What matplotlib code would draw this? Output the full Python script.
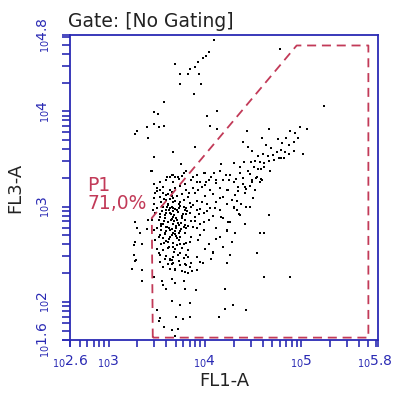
import matplotlib
matplotlib.use("Agg")
import matplotlib.pyplot as plt
import matplotlib.transforms as mtransforms
import numpy as np
from matplotlib.ticker import LogLocator, NullFormatter, FixedLocator

# event positions, as log10(FL1-A) / log10(FL3-A)
fl1_log = [
    # upper sparse events
    4.10, 4.04, 4.01, 3.98, 3.93, 3.69, 3.90, 3.85, 3.74, 3.83, 3.94, 3.74, 3.96, 3.89,
    4.78, 3.58, 3.47, 3.51, 4.02, 4.13, 3.47, 3.40, 3.52, 3.58, 4.05, 3.30, 3.28, 3.41,
    4.13, 5.24, 3.47, 3.67, 3.90, 3.75, 3.44,
    # bright diagonal cloud
    4.44, 4.67, 4.40, 4.60, 4.45, 4.49, 4.64, 4.69, 4.76, 4.84, 4.89, 4.94, 4.99, 5.06,
    4.97, 4.93, 4.88, 4.80, 4.79, 4.83, 4.75, 4.71, 4.66, 4.61, 4.55, 4.52, 4.48, 4.57,
    4.62, 4.67, 4.72, 4.77, 4.79, 4.82, 4.88, 4.93, 5.02, 4.41, 4.30, 4.37, 4.51, 4.55,
    4.58, 4.68, 4.62, 4.17, 4.16, 4.10, 4.22, 3.99, 3.88, 4.40, 4.47, 4.53, 4.58, 4.49,
    4.25, 4.32, 4.12, 4.01, 3.92, 3.64,
    # main population
    3.45, 3.66, 3.69, 3.76, 3.81, 3.92, 4.00, 4.07, 4.16, 4.26, 4.37, 4.45, 4.54,
    3.60, 3.67, 3.73, 3.79, 3.86, 3.95, 4.04, 4.12, 4.19, 4.30, 4.40, 4.49,
    3.50, 3.57, 3.64, 3.69, 3.74, 3.81, 3.88, 3.97, 4.05, 4.16, 4.24, 4.35, 4.43, 4.52,
    3.48, 3.54, 3.60, 3.66, 3.71, 3.76, 3.83, 3.90, 4.00, 4.09, 4.19, 4.31, 4.42, 4.50,
    3.55, 3.62, 3.64, 3.67, 3.73, 3.78, 3.85, 3.92, 4.02, 4.12, 4.23, 4.33,
    3.50, 3.57, 3.60, 3.66, 3.69, 3.73, 3.79, 3.86, 3.95, 4.05, 4.16, 4.30, 4.47,
    3.48, 3.54, 3.59, 3.64, 3.67, 3.72, 3.76, 3.81, 3.90, 3.99, 4.09, 4.19, 4.37,
    3.28, 3.52, 3.57, 3.62, 3.67, 3.71, 3.75, 3.79, 3.86, 3.95, 4.04, 4.26, 4.42,
    3.50, 3.55, 3.60, 3.66, 3.70, 3.74, 3.81, 3.88, 3.99, 4.12, 4.23,
    3.33, 3.54, 3.59, 3.64, 3.69, 3.74, 3.79, 3.86, 3.95, 4.16, 4.31,
    3.28, 3.48, 3.55, 3.60, 3.67, 3.73, 3.78, 3.85, 3.93, 4.04,
    3.50, 3.57, 3.63, 3.69, 3.76, 3.83, 4.00, 4.19,
    3.26, 3.52, 3.60, 3.67, 3.74, 3.81, 3.92, 4.09,
    3.29, 3.54, 3.64, 3.66, 3.73, 3.79, 3.95,
    3.24, 3.57, 3.69, 3.85,
    3.62, 3.64, 3.67, 3.68, 3.70, 3.65, 3.73, 3.63, 3.69, 3.66, 3.71, 3.62, 3.76, 3.78,
    3.59, 3.56, 3.60, 3.67, 3.74, 3.81, 3.85, 3.60, 3.73, 3.78, 3.55, 3.52, 3.67, 3.74,
    3.57, 3.79, 3.92, 3.92, 3.99, 4.02, 4.11, 4.16, 4.23, 4.28, 3.93, 4.00, 3.54, 3.47,
    3.45, 3.47, 3.47,
    # dense core
    3.58, 3.61, 3.63, 3.65, 3.66, 3.68, 3.70, 3.72, 3.61, 3.58, 3.64, 3.67, 3.70, 3.63,
    3.59, 3.75, 3.77, 3.71, 3.74, 3.69, 3.66, 3.62, 3.56, 3.53, 3.55, 3.58, 3.62, 3.71,
    3.68, 3.64, 3.80, 3.83, 3.82, 3.88, 3.90, 3.94, 3.97, 3.84, 3.60, 3.67,
    # right side of main population
    4.38, 4.47, 4.42, 4.35, 4.54, 4.59, 4.57, 4.67, 4.36, 4.54, 4.57, 4.62, 4.24, 4.30,
    4.17, 4.23, 4.33, 4.43, 4.28, 4.12, 4.09,
    # left of the gate
    3.30, 3.26, 3.35, 3.40, 3.46, 3.50, 3.53, 3.57, 3.47, 3.41, 3.61, 3.67, 3.72, 3.78,
    # lower tail
    3.28, 3.24, 3.35, 3.35, 3.47, 3.54, 3.59, 3.62, 3.66, 3.67, 3.69, 3.64, 3.72, 3.74,
    3.78, 3.83, 3.81, 3.86, 3.76, 3.79, 3.83, 3.87, 3.92, 3.98, 4.07, 4.23, 4.26, 3.56,
    3.57, 3.60, 3.66, 3.69, 3.78, 3.79, 3.91, 4.21, 3.66, 3.74, 3.85, 4.21, 4.29, 4.43,
    4.15, 3.50, 3.53, 3.52, 3.58, 3.66, 3.70, 3.77, 3.85, 3.72, 3.69, 4.62, 4.89,
]
fl3_log = [
    4.75, 4.62, 4.58, 4.56, 4.52, 4.50, 4.46, 4.44, 4.39, 4.39, 4.39, 4.29, 4.29, 4.18,
    4.65, 4.10, 3.99, 3.97, 3.95, 4.00, 3.87, 3.83, 3.83, 3.85, 3.85, 3.79, 3.76, 3.72,
    3.81, 4.05, 3.52, 3.57, 3.62, 3.45, 3.37,
    3.79, 3.81, 3.68, 3.72, 3.63, 3.58, 3.65, 3.61, 3.71, 3.72, 3.79, 3.77, 3.83, 3.81,
    3.72, 3.68, 3.65, 3.67, 3.59, 3.57, 3.57, 3.54, 3.53, 3.55, 3.53, 3.48, 3.47, 3.47,
    3.46, 3.48, 3.49, 3.51, 3.51, 3.51, 3.55, 3.58, 3.55, 3.47, 3.46, 3.42, 3.42, 3.39,
    3.39, 3.37, 3.42, 3.45, 3.37, 3.35, 3.33, 3.35, 3.31, 3.30, 3.34, 3.30, 3.29, 3.26,
    3.28, 3.29, 3.28, 3.26, 3.26, 3.31,
    3.37, 3.33, 3.31, 3.32, 3.37, 3.33, 3.35, 3.31, 3.37, 3.33, 3.35, 3.37, 3.31,
    3.28, 3.26, 3.29, 3.24, 3.28, 3.26, 3.28, 3.25, 3.28, 3.26, 3.24, 3.28,
    3.19, 3.21, 3.17, 3.19, 3.22, 3.17, 3.19, 3.21, 3.17, 3.19, 3.17, 3.21, 3.18, 3.17,
    3.14, 3.10, 3.12, 3.15, 3.11, 3.13, 3.10, 3.14, 3.11, 3.13, 3.10, 3.12, 3.14, 3.09,
    3.05, 3.03, 3.08, 3.05, 3.03, 3.07, 3.04, 3.06, 3.03, 3.05, 3.03, 3.06,
    2.98, 3.00, 2.96, 3.00, 2.97, 2.99, 2.96, 3.00, 2.97, 2.99, 2.96, 2.98, 3.00,
    2.93, 2.89, 2.91, 2.93, 2.89, 2.94, 2.90, 2.92, 2.89, 2.93, 2.90, 2.88, 2.91,
    2.84, 2.86, 2.82, 2.84, 2.82, 2.86, 2.83, 2.81, 2.85, 2.82, 2.86, 2.84, 2.82,
    2.77, 2.75, 2.79, 2.76, 2.78, 2.74, 2.77, 2.79, 2.75, 2.78, 2.74,
    2.72, 2.70, 2.72, 2.68, 2.71, 2.68, 2.72, 2.68, 2.70, 2.68, 2.72,
    2.63, 2.65, 2.61, 2.64, 2.62, 2.65, 2.61, 2.63, 2.65, 2.61,
    2.56, 2.54, 2.58, 2.55, 2.57, 2.54, 2.56, 2.58,
    2.49, 2.51, 2.48, 2.47, 2.51, 2.49, 2.47, 2.51,
    2.44, 2.42, 2.44, 2.40, 2.43, 2.40, 2.42,
    2.35, 2.37, 2.35, 2.37,
    3.02, 2.98, 2.95, 2.91, 2.88, 2.86, 2.81, 2.77, 2.74, 2.70, 2.67, 2.63, 2.88, 3.00,
    2.88, 2.95, 3.07, 3.09, 3.05, 2.98, 2.93, 2.74, 2.72, 2.79, 2.82, 2.68, 2.58, 2.61,
    2.67, 2.86, 2.77, 2.96, 2.84, 2.95, 2.98, 3.09, 3.17, 3.07, 3.17, 3.23, 3.17, 3.03,
    2.86, 2.75, 3.24,
    3.08, 3.00, 2.96, 2.92, 2.87, 2.85, 2.80, 2.83, 2.79, 2.85, 2.75, 2.72, 2.69, 2.66,
    2.71, 2.76, 2.92, 2.96, 3.01, 3.06, 3.11, 3.13, 3.01, 2.92, 2.80, 2.62, 2.57, 2.60,
    2.52, 2.45, 2.62, 2.80, 2.95, 3.02, 2.85, 2.92, 3.05, 3.14, 2.93, 2.99,
    3.03, 3.22, 3.21, 3.16, 3.31, 3.28, 3.26, 2.91, 2.92, 2.51, 2.72, 2.72, 2.84, 3.00,
    2.89, 2.75, 2.96, 3.00, 2.63, 2.66, 2.52,
    2.77, 2.60, 2.61, 2.76, 2.96, 3.16, 3.26, 3.14, 3.09, 2.86, 3.31, 3.33, 3.31, 3.35,
    2.43, 2.35, 2.33, 2.22, 2.26, 2.49, 2.45, 2.40, 2.44, 2.41, 2.33, 2.35, 2.49, 2.39,
    2.46, 2.47, 2.39, 2.41, 2.32, 2.31, 2.30, 2.32, 2.33, 2.41, 2.45, 2.41, 2.49, 2.22,
    2.18, 2.14, 2.24, 2.20, 2.22, 2.14, 2.12, 2.14, 2.01, 1.97, 1.99, 1.93, 1.97, 1.91,
    1.84, 1.91, 1.83, 1.80, 1.74, 1.70, 1.84, 1.82, 1.84, 1.72, 1.64, 2.26, 2.26,
]

# P1 gate outline (log10 units)
gate_fl1 = [3.46, 3.45, 4.955, 5.70, 5.70, 3.46]
gate_fl3 = [1.625, 2.88, 4.69, 4.69, 1.625, 1.625]

x_major = [2.6, 3, 4, 5, 5.8]
y_major = [1.6, 2, 3, 4, 4.8]

blue = "#2a2ab4"
red = "#c23a58"

fig = plt.figure(figsize=(3.94, 3.97), dpi=100)
ax = fig.add_axes([70 / 394, 1 - 340 / 397, 308 / 394, 305 / 397])

ax.scatter(10 ** np.array(fl1_log), 10 ** np.array(fl3_log), s=2.4, marker="s",
           c="black", linewidths=0, zorder=2)
ax.plot(10 ** np.array(gate_fl1), 10 ** np.array(gate_fl3), color=red, lw=1.3,
        linestyle=(0, (5, 3.2)), zorder=3)

ax.set_xscale("log")
ax.set_yscale("log")
ax.set_xlim(10 ** 2.6, 10 ** 5.8)
ax.set_ylim(10 ** 1.6, 10 ** 4.8)

ax.xaxis.set_major_locator(FixedLocator([10 ** v for v in x_major]))
ax.yaxis.set_major_locator(FixedLocator([10 ** v for v in y_major]))
ax.set_xticklabels([r"$_{10}$" + ("%g" % v) for v in x_major])
ax.set_yticklabels([r"$_{10}$" + ("%g" % v) for v in y_major], rotation=90, va="center")
for a in (ax.xaxis, ax.yaxis):
    a.set_minor_locator(LogLocator(base=10, subs=np.arange(2, 10)))
    a.set_minor_formatter(NullFormatter())

ax.tick_params(which="both", direction="out", color=blue, width=1.2, length=5,
               labelcolor=blue, labelsize=10)
ax.tick_params(axis="y", which="both", length=6)
ax.tick_params(axis="x", pad=5)
ax.tick_params(axis="y", pad=7)
for sp in ax.spines.values():
    sp.set_color(blue)
    sp.set_linewidth(1.3)

# last x label sits against the right edge of the image; nudge it inward
last = ax.get_xticklabels()[-1]
last.set_transform(last.get_transform() +
                   mtransforms.ScaledTranslation(-3 / 100, 0, fig.dpi_scale_trans))

ax.set_xlabel("FL1-A", fontsize=13, color="#222222", labelpad=1)
ax.set_ylabel("FL3-A", fontsize=13, color="#222222", labelpad=8)

fig.text(68 / 394, 1 - 27 / 397, "Gate: [No Gating]", fontsize=13.5, color="#222222",
         va="baseline", ha="left")
ax.text(10 ** 2.78, 10 ** 3.13, "P1\n71,0%", fontsize=13.5, color=red,
        ha="left", va="center", linespacing=0.95, zorder=4)

fig.savefig("out.png", dpi=100)
